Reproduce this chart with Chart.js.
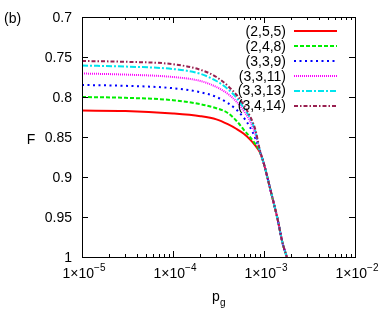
<!DOCTYPE html>
<html lang="en">
<head>
    <meta charset="UTF-8">
    <title>F vs p_g</title>
    <script src="https://cdn.jsdelivr.net/npm/chart.js"></script>
    <style>
        body { margin: 0; background: #fff; }
        canvas { display: block; }
    </style>
</head>
<body>
    <canvas id="chart" width="382" height="320"></canvas>
    <script>
        // gate error probabilities (x values)
        const pg = [1e-5, 3e-5, 1e-4, 2e-4, 3e-4, 4e-4, 5e-4, 6e-4, 7e-4, 8e-4, 9e-4,
                    1e-3, 1.2e-3, 1.4e-3, 1.6e-3, 1.78e-3];

        const labels = ['(2,5,5)', '(2,4,8)', '(3,3,9)', '(3,3,11)', '(3,3,13)', '(3,4,14)'];

        // fidelity, one list per code
        const f255  = [0.817, 0.8175, 0.8206, 0.824, 0.828, 0.834, 0.840, 0.846, 0.853, 0.8605, 0.869, 0.884, 0.920, 0.951, 0.9825, 1.0];
        const f248  = [0.800, 0.801, 0.804, 0.809, 0.814, 0.820, 0.830, 0.841, 0.850, 0.8585, 0.8685, 0.884, 0.920, 0.951, 0.9825, 1.0];
        const f339  = [0.785, 0.786, 0.789, 0.794, 0.800, 0.8075, 0.816, 0.826, 0.8375, 0.851, 0.868, 0.884, 0.920, 0.951, 0.9825, 1.0];
        const f3311 = [0.7706, 0.772, 0.775, 0.780, 0.7875, 0.796, 0.806, 0.8175, 0.830, 0.846, 0.8675, 0.884, 0.920, 0.951, 0.9825, 1.0];
        const f3313 = [0.7606, 0.762, 0.765, 0.771, 0.780, 0.790, 0.801, 0.8137, 0.826, 0.842, 0.867, 0.884, 0.920, 0.951, 0.9825, 1.0];
        const f3414 = [0.755, 0.756, 0.759, 0.766, 0.775, 0.786, 0.7975, 0.810, 0.8237, 0.840, 0.866, 0.884, 0.920, 0.951, 0.9825, 1.0];

        const series = [f255, f248, f339, f3311, f3313, f3414];
        const colors = ['#ff0000', '#00ee00', '#0000ff', '#ff00ff', '#00e5ee', '#992050'];
        const dashes = [[], [4, 2], [2, 3.5], [1, 1], [6, 2, 2, 2], [4, 2, 1.5, 2]];

        const yTicks = [0.7, 0.75, 0.8, 0.85, 0.9, 0.95, 1];
        const yTickText = ['0.7', '0.75', '0.8', '0.85', '0.9', '0.95', '1'];
        const xDecades = [-5, -4, -3, -2];

        const FONT = '"Liberation Sans", Arial, sans-serif';

        // later series drawn on top, like the original plot
        const datasets = series.map((vals, i) => ({
            label: labels[i],
            data: vals.map((v, j) => ({ x: pg[j], y: v })),
            borderColor: colors[i],
            borderWidth: 2,
            borderDash: dashes[i],
            pointRadius: 0,
            fill: false,
            order: series.length - 1 - i,
            cubicInterpolationMode: 'monotone'
        }));

        // frame, ticks, labels and key drawn with the chart's own scales
        const decorations = {
            id: 'decorations',
            afterDraw(chart) {
                const ctx = chart.ctx;
                const a = chart.chartArea;
                const xs = chart.scales.x, ys = chart.scales.y;
                ctx.save();
                ctx.strokeStyle = '#000';
                ctx.lineWidth = 1;
                ctx.strokeRect(Math.round(a.left) + 0.5, Math.round(a.top) + 0.5,
                    Math.round(a.right - a.left), Math.round(a.bottom - a.top));

                ctx.beginPath();
                yTicks.forEach(v => {
                    const y = Math.round(ys.getPixelForValue(v)) + 0.5;
                    ctx.moveTo(a.left, y); ctx.lineTo(a.left + 6, y);
                    ctx.moveTo(a.right, y); ctx.lineTo(a.right - 6, y);
                });
                for (let k = -5; k < -2; k++) {
                    for (let m = 1; m <= 10; m++) {
                        const x = Math.round(xs.getPixelForValue(m * Math.pow(10, k))) + 0.5;
                        const len = (m === 1 || m === 10) ? 6 : 3;
                        ctx.moveTo(x, a.bottom); ctx.lineTo(x, a.bottom - len);
                        ctx.moveTo(x, a.top); ctx.lineTo(x, a.top + len);
                    }
                }
                ctx.stroke();

                ctx.fillStyle = '#000';
                ctx.font = '14px ' + FONT;
                ctx.textAlign = 'right';
                ctx.textBaseline = 'middle';
                yTicks.forEach((v, i) => {
                    ctx.fillText(yTickText[i], a.left - 10, ys.getPixelForValue(v) + 1);
                });

                // x labels 1x10^k
                ctx.textBaseline = 'alphabetic';
                xDecades.forEach(k => {
                    const x = xs.getPixelForValue(Math.pow(10, k));
                    const base = '1\u00d710', sup = String(k).replace('-', '\u2212');
                    ctx.font = '14px ' + FONT;
                    const wb = ctx.measureText(base).width;
                    ctx.font = '10px ' + FONT;
                    const ws = ctx.measureText(sup).width;
                    const x0 = x - (wb + ws) / 2 + 2;
                    ctx.textAlign = 'left';
                    ctx.font = '14px ' + FONT;
                    ctx.fillText(base, x0, 278);
                    ctx.font = '10px ' + FONT;
                    ctx.fillText(sup, x0 + wb, 271);
                });

                // axis titles
                ctx.font = '14px ' + FONT;
                ctx.textAlign = 'left';
                ctx.fillText('p', 212, 301);
                ctx.font = '10px ' + FONT;
                ctx.fillText('g', 220, 306);
                ctx.font = '14px ' + FONT;
                ctx.textAlign = 'center';
                ctx.textBaseline = 'middle';
                ctx.fillText('F', 31, 140);
                ctx.textAlign = 'left';
                ctx.fillText('(b)', 4, 19);

                // key
                datasets.forEach((d, i) => {
                    const y = 31 + i * 14.9;
                    ctx.textAlign = 'right';
                    ctx.fillStyle = '#000';
                    ctx.fillText(d.label, 286, y + 1);
                    ctx.beginPath();
                    ctx.strokeStyle = d.borderColor;
                    ctx.lineWidth = 2;
                    ctx.setLineDash(d.borderDash);
                    ctx.moveTo(294, Math.round(y));
                    ctx.lineTo(337, Math.round(y));
                    ctx.stroke();
                });
                ctx.restore();
            }
        };

        new Chart(document.getElementById('chart'), {
            type: 'line',
            data: { datasets: datasets },
            options: {
                responsive: false,
                animation: false,
                devicePixelRatio: 1,
                layout: { padding: { left: 82, right: 27, top: 17, bottom: 63 } },
                plugins: { legend: { display: false }, tooltip: { enabled: false } },
                scales: {
                    x: { type: 'logarithmic', min: 1e-5, max: 1e-2, display: false },
                    y: { type: 'linear', min: 0.7, max: 1, reverse: true, display: false }
                }
            },
            plugins: [decorations]
        });
    </script>
</body>
</html>
